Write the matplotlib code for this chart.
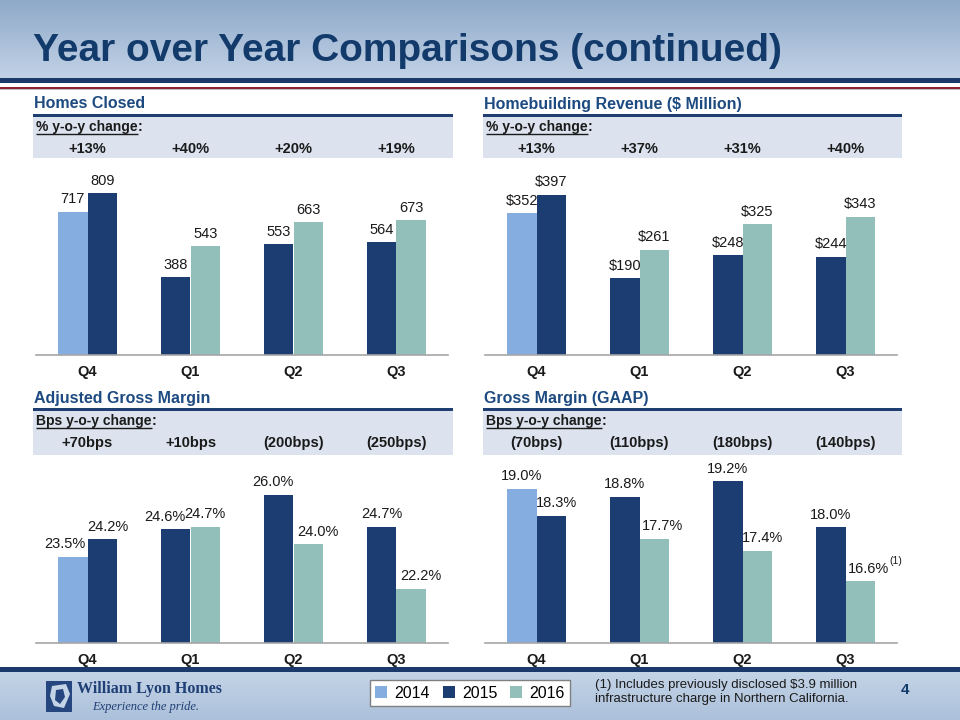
import numpy as np
import matplotlib
matplotlib.use("Agg")
import matplotlib.pyplot as plt
from matplotlib.patches import Rectangle, Patch, Polygon
from matplotlib import transforms

# ---------------- data ----------------
quarters = ["Q4", "Q1", "Q2", "Q3"]

homes_prior = [717, 388, 553, 564]
homes_current = [809, 543, 663, 673]
homes_change = ["+13%", "+40%", "+20%", "+19%"]

rev_prior = [352, 190, 248, 244]
rev_current = [397, 261, 325, 343]
rev_change = ["+13%", "+37%", "+31%", "+40%"]

adj_prior = [23.5, 24.6, 26.0, 24.7]
adj_current = [24.2, 24.7, 24.0, 22.2]
adj_change = ["+70bps", "+10bps", "(200bps)", "(250bps)"]

gaap_prior = [19.0, 18.8, 19.2, 18.0]
gaap_current = [18.3, 17.7, 17.4, 16.6]
gaap_change = ["(70bps)", "(110bps)", "(180bps)", "(140bps)"]

years = ["2014", "2015", "2016"]

# ---------------- style ----------------
C2014 = "#86ADE0"
C2015 = "#1C3D72"
C2016 = "#93BFBA"
TITLE_C = "#123A6B"
PANEL_C = "#1D4A80"
BOX_C = "#DCE3EE"
TXT = "#1A1A1A"
prior_colors = [C2014, C2015, C2015, C2015]
current_colors = [C2015, C2016, C2016, C2016]

NARROW = ["Liberation Sans Narrow", "Liberation Sans", "DejaVu Sans"]
SANS = ["Liberation Sans", "DejaVu Sans"]
SERIF = ["Liberation Serif", "DejaVu Serif"]
plt.rcParams["font.family"] = SANS

W, H = 960, 720
fig = plt.figure(figsize=(9.6, 7.2), dpi=100)
fig.patch.set_facecolor("white")

# background axes in pixel coordinates
bg = fig.add_axes([0, 0, 1, 1], zorder=0)
bg.set_xlim(0, W)
bg.set_ylim(H, 0)
bg.axis("off")

# header gradient
grad = np.linspace(0, 1, 100).reshape(-1, 1)
top_c = np.array(matplotlib.colors.to_rgb("#8EA9C9"))
bot_c = np.array(matplotlib.colors.to_rgb("#C2D2E6"))
img = top_c[None, None, :] * (1 - grad[..., None]) + bot_c[None, None, :] * grad[..., None]
bg.imshow(img, extent=(0, W, 78, 0), aspect="auto", zorder=0)
bg.add_patch(Rectangle((0, 78), W, 4.5, color="#1B3A6B", lw=0, zorder=1))
bg.add_patch(Rectangle((0, 86.5), W, 2, color="#8B2332", lw=0, zorder=1))
bg.add_patch(Rectangle((0, 88.5), W, 1, color="#B9B9C4", lw=0, zorder=1))
bg.text(33, 51, "Year over Year Comparisons (continued)", family=NARROW,
        fontsize=28, fontweight="bold", color=TITLE_C, va="center", ha="left")

# footer
fimg = (np.array(matplotlib.colors.to_rgb("#C4D4E7"))[None, None, :] * (1 - grad[..., None])
        + np.array(matplotlib.colors.to_rgb("#ABC0DA"))[None, None, :] * grad[..., None])
bg.imshow(fimg, extent=(0, W, H, 672), aspect="auto", zorder=0)
bg.add_patch(Rectangle((0, 667), W, 5, color="#1B3A6B", lw=0, zorder=1))

# logo
bg.add_patch(Polygon([[46, 681], [72, 681], [72, 712], [46, 712]], closed=True,
                     facecolor="#25467E", edgecolor="none", zorder=2))
bg.add_patch(Polygon([[52, 686], [66, 684], [70, 694], [64, 708], [54, 706], [50, 696]],
                     closed=True, facecolor="#C4D4E7", edgecolor="none", zorder=3))
bg.add_patch(Polygon([[56, 690], [63, 689], [65, 697], [60, 704], [55, 700]],
                     closed=True, facecolor="#25467E", edgecolor="none", zorder=4))
bg.text(77, 689, "William Lyon Homes", family=SERIF, fontsize=11.5, fontweight="bold",
        color="#1F3F75", va="center", ha="left")
bg.text(92, 707, "Experience the pride.", family=SERIF, fontsize=9, style="italic",
        color="#1F3F75", va="center", ha="left")

# footnote and page number
bg.text(595, 692, "(1) Includes previously disclosed \\$3.9 million\ninfrastructure charge in Northern California.",
        family=NARROW, fontsize=9.5, color=TXT, va="center", ha="left", linespacing=1.25)
bg.text(905, 690, "4", fontsize=11, fontweight="bold", color=TITLE_C, va="center", ha="center")

# legend
handles = [Patch(facecolor=c, edgecolor="none") for c in (C2014, C2015, C2016)]
leg = fig.legend(handles, years, loc="center", bbox_to_anchor=(470 / W, 1 - 693 / H),
                 ncol=3, frameon=True, fancybox=False, fontsize=11.5, handlelength=0.75,
                 handleheight=0.75, handletextpad=0.45, columnspacing=0.8,
                 borderpad=0.35, edgecolor="#808080", framealpha=1)
leg.get_frame().set_linewidth(1.0)

renderer = fig.canvas.get_renderer()


def underline_label(x, y, text):
    t = bg.text(x, y, text, fontsize=10, fontweight="bold", color=TXT, va="center", ha="left")
    bb = t.get_window_extent(renderer)
    inv = bg.transData.inverted()
    (x0, y0), (x1, y1) = inv.transform([[bb.x0, bb.y0], [bb.x1, bb.y1]])
    bg.plot([x0, x1], [y + 7, y + 7], color=TXT, lw=1.0, solid_capstyle="butt")
    bg.text(x1, y, ":", fontsize=10, fontweight="bold", color=TXT, va="center", ha="left")


def panel(rect_px, ylim, prior, current, labels_fmt, title, sub, changes,
          header_px, nudge=None):
    # rect_px: (left, top, right, bottom) pixel coords of axes
    l, t, r, b = rect_px
    ax = fig.add_axes([l / W, 1 - b / H, (r - l) / W, (b - t) / H], zorder=2)
    x = np.arange(len(quarters))
    w = 0.285
    ax.bar(x - w / 2, prior, w, color=prior_colors)
    ax.bar(x + w / 2, current, w, color=current_colors)
    ax.set_xlim(-0.5, 3.5)
    ax.set_ylim(*ylim)
    for s in ("top", "right", "left"):
        ax.spines[s].set_visible(False)
    ax.spines["bottom"].set_color("#A6A6A6")
    ax.spines["bottom"].set_linewidth(1.2)
    ax.spines["bottom"].set_position(("data", ylim[0]))
    ax.set_yticks([])
    ax.set_xticks(x)
    ax.set_xticklabels(quarters, fontsize=10.5, fontweight="bold", color=TXT)
    ax.tick_params(axis="x", length=0, pad=7)
    ax.patch.set_alpha(0)
    if nudge is None:
        nudge = ([0] * 4, [0] * 4)
    for i in range(len(quarters)):
        ax.annotate(labels_fmt(prior[i]), (x[i] - w / 2, prior[i]), xytext=(nudge[0][i], 4),
                    textcoords="offset points", ha="center", va="bottom", fontsize=10.5, color=TXT)
        ax.annotate(labels_fmt(current[i]), (x[i] + w / 2, current[i]), xytext=(nudge[1][i], 4),
                    textcoords="offset points", ha="center", va="bottom", fontsize=10.5, color=TXT)
    # header
    hl, hline, hb = header_px
    bg.text(hl + 1, hline - 11, title, fontsize=11.5, fontweight="bold", color=PANEL_C,
            va="center", ha="left")
    bg.add_patch(Rectangle((hl, hline - 1.5), (r + 5) - hl, 3, color="#1F3F73", lw=0, zorder=2))
    bg.add_patch(Rectangle((hl, hline + 2), (r + 5) - hl, hb - hline - 2, color=BOX_C, lw=0, zorder=1))
    underline_label(hl + 3, hline + 12, sub)
    tr = transforms.blended_transform_factory(ax.transData, bg.transData)
    for i, c in enumerate(changes):
        bg.text(x[i], hline + 34, c, transform=tr, fontsize=10.5, fontweight="bold",
                color=TXT, va="center", ha="center")
    return ax


panel((36, 160, 448, 355), (0, 975), homes_prior, homes_current, lambda v: f"{v}",
      "Homes Closed", "% y-o-y change", homes_change, (33, 115, 158))
panel((485, 160, 897, 355), (0, 484), rev_prior, rev_current, lambda v: f"\\${v}",
      "Homebuilding Revenue (\\$ Million)", "% y-o-y change", rev_change, (483, 115, 158))
panel((36, 458, 448, 643), (20, 27.49), adj_prior, adj_current, lambda v: f"{v:.1f}%",
      "Adjusted Gross Margin", "Bps y-o-y change", adj_change, (33, 409, 455),
      nudge=([-6, -8, -4, 0], [4, 0, 7, 7]))
ax_g = panel((485, 458, 897, 643), (15, 19.8), gaap_prior, gaap_current, lambda v: f"{v:.1f}%",
             "Gross Margin (GAAP)", "Bps y-o-y change", gaap_change, (483, 409, 455),
             nudge=([0, 0, 0, 0], [4, 6, 4, 6]))
ax_g.annotate("(1)", (3 + 0.285 / 2, gaap_current[3]), xytext=(26, 11), textcoords="offset points",
              ha="center", va="bottom", fontsize=7.5, color=TXT)

fig.savefig("out.png", dpi=100)
